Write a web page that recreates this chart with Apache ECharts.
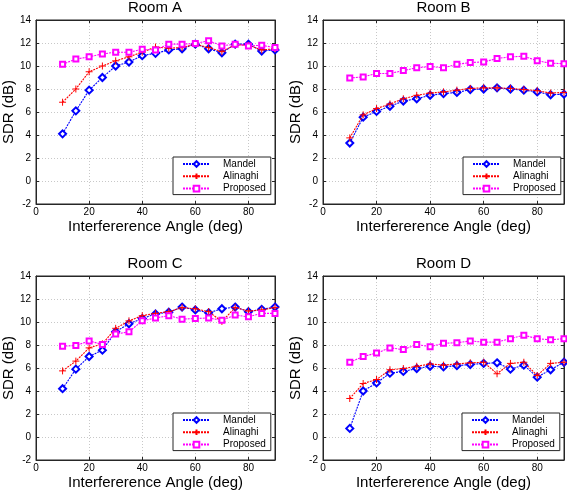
<!DOCTYPE html>
<html>
<head>
<meta charset="utf-8">
<script src="https://cdn.jsdelivr.net/npm/echarts@6/dist/echarts.min.js"></script>
<style>
html,body{margin:0;padding:0;background:#fff;}
#main{width:567px;height:493px;}
</style>
</head>
<body>
<div id="main"></div>
<script>
const angles = [10,15,20,25,30,35,40,45,50,55,60,65,70,75,80,85,90];
const roomNames = ['Room A','Room B','Room C','Room D'];
const seriesNames = ['Mandel','Alinaghi','Proposed'];

const mandelA   = [4.1, 6.1, 7.9, 9.0, 10.0, 10.35, 10.9, 11.1, 11.4, 11.5, 11.9, 11.5, 11.15, 11.9, 11.9, 11.3, 11.4];
const alinaghiA = [6.85, 8.0, 9.5, 10.0, 10.45, 10.8, 11.2, 11.65, 11.55, 11.6, 11.9, 11.6, 11.25, 11.85, 11.8, 11.4, 11.5];
const proposedA = [10.15, 10.6, 10.8, 11.05, 11.2, 11.2, 11.45, 11.4, 11.9, 11.9, 11.95, 12.2, 11.75, 11.9, 11.75, 11.8, 11.6];

const mandelB   = [3.3, 5.55, 6.05, 6.5, 6.95, 7.15, 7.45, 7.6, 7.7, 7.95, 8.0, 8.1, 8.0, 7.9, 7.75, 7.5, 7.55];
const alinaghiB = [3.75, 5.75, 6.3, 6.7, 7.15, 7.45, 7.65, 7.75, 7.9, 8.05, 8.1, 8.1, 8.05, 7.95, 7.85, 7.65, 7.7];
const proposedB = [8.95, 9.05, 9.35, 9.35, 9.6, 9.85, 9.95, 9.85, 10.15, 10.3, 10.35, 10.65, 10.8, 10.85, 10.45, 10.25, 10.2];

const mandelC   = [4.2, 5.9, 7.0, 7.55, 9.15, 9.85, 10.3, 10.7, 10.85, 11.3, 11.05, 10.8, 11.15, 11.3, 10.9, 11.1, 11.3];
const alinaghiC = [5.75, 6.6, 7.75, 8.1, 9.45, 10.1, 10.55, 10.75, 10.9, 11.25, 11.15, 10.9, 10.05, 11.25, 10.95, 11.05, 11.25];
const proposedC = [7.9, 7.95, 8.35, 8.05, 8.95, 9.15, 10.1, 10.35, 10.55, 10.25, 10.3, 10.35, 10.15, 10.6, 10.45, 10.75, 10.75];

const mandelD   = [0.75, 4.0, 4.7, 5.55, 5.7, 5.95, 6.15, 6.1, 6.2, 6.3, 6.4, 6.45, 5.9, 6.25, 5.2, 5.85, 6.5];
const alinaghiD = [3.35, 4.65, 5.0, 5.85, 5.95, 6.15, 6.35, 6.25, 6.35, 6.45, 6.5, 5.5, 6.4, 6.5, 5.35, 6.4, 6.5];
const proposedD = [6.5, 7.0, 7.3, 7.75, 7.6, 8.05, 7.85, 8.15, 8.2, 8.35, 8.25, 8.25, 8.55, 8.85, 8.55, 8.45, 8.55];

const xTickInterval = 20, xMin = 0, xMax = 90;
const yTickInterval = 2, yMin = -2, yMax = 14;
const xLabel = 'Interfererence Angle (deg)';
const yLabel = 'SDR (dB)';

const roomData = [
  [mandelA, alinaghiA, proposedA],
  [mandelB, alinaghiB, proposedB],
  [mandelC, alinaghiC, proposedC],
  [mandelD, alinaghiD, proposedD]
];

const FONT = 'Liberation Sans, Arial, Helvetica, sans-serif';
const grids = [
  {left: 35, top: 20, width: 240, height: 184},
  {left: 323, top: 20, width: 241, height: 184},
  {left: 35, top: 276, width: 240, height: 184},
  {left: 323, top: 276, width: 241, height: 184}
];
const legendPos = [
  {left: 173, top: 157},
  {left: 463, top: 157},
  {left: 173, top: 413},
  {left: 462, top: 413}
];
const colors = ['#0000ff', '#ff0000', '#ff00ff'];
const plusPath = 'path://M4,0L4,8M0,4L8,4';
const symbols = ['emptyDiamond', plusPath, 'emptyRect'];
const symbolSizes = [7, 7, 5];
const axisColor = '#262626';

const option = {
  backgroundColor: '#fff',
  animation: false,
  title: [], grid: [], xAxis: [], yAxis: [], series: [], legend: []
};

grids.forEach((g, i) => {
  option.grid.push(Object.assign({show: true, borderColor: axisColor, borderWidth: 1, backgroundColor: 'transparent'}, g));
  option.title.push({
    text: roomNames[i],
    left: g.left + g.width / 2,
    top: g.top - 20,
    textAlign: 'center',
    padding: 0,
    textStyle: {fontFamily: FONT, fontSize: 15, fontWeight: 'normal', color: '#000'}
  });
  option.xAxis.push({
    type: 'value', gridIndex: i, min: xMin, max: xMax, interval: xTickInterval,
    position: 'bottom',
    name: xLabel, nameLocation: 'middle', nameGap: 15,
    nameTextStyle: {fontFamily: FONT, fontSize: 15, color: '#000'},
    axisLine: {show: true, onZero: false, lineStyle: {color: axisColor, width: 1}},
    axisTick: {show: true, inside: true, length: 3, lineStyle: {color: axisColor}},
    axisLabel: {fontFamily: FONT, fontSize: 10, color: '#000', margin: 3, showMaxLabel: false},
    splitLine: {show: true, lineStyle: {color: '#c8c8c8', type: [1, 2], width: 1}}
  });
  option.xAxis.push({
    type: 'value', gridIndex: i, min: xMin, max: xMax, interval: xTickInterval,
    position: 'top',
    axisLine: {show: true, onZero: false, lineStyle: {color: axisColor, width: 1}},
    axisTick: {show: true, inside: true, length: 3, lineStyle: {color: axisColor}},
    axisLabel: {show: false}, splitLine: {show: false}
  });
  option.yAxis.push({
    type: 'value', gridIndex: i, min: yMin, max: yMax, interval: yTickInterval,
    position: 'left',
    name: yLabel, nameLocation: 'middle', nameGap: 20,
    nameTextStyle: {fontFamily: FONT, fontSize: 15, color: '#000'},
    axisLine: {show: true, onZero: false, lineStyle: {color: axisColor, width: 1}},
    axisTick: {show: true, inside: true, length: 3, lineStyle: {color: axisColor}},
    axisLabel: {fontFamily: FONT, fontSize: 10, color: '#000', margin: 5},
    splitLine: {show: true, lineStyle: {color: '#c8c8c8', type: [1, 2], width: 1}}
  });
  option.yAxis.push({
    type: 'value', gridIndex: i, min: yMin, max: yMax, interval: yTickInterval,
    position: 'right',
    axisLine: {show: true, onZero: false, lineStyle: {color: axisColor, width: 1}},
    axisTick: {show: true, inside: true, length: 3, lineStyle: {color: axisColor}},
    axisLabel: {show: false}, splitLine: {show: false}
  });
  roomData[i].forEach((vals, s) => {
    option.series.push({
      type: 'line',
      name: seriesNames[s],
      xAxisIndex: i * 2,
      yAxisIndex: i * 2,
      data: angles.map((a, k) => [a, vals[k]]),
      symbol: symbols[s],
      symbolSize: symbolSizes[s],
      showAllSymbol: true,
      color: colors[s],
      lineStyle: {color: colors[s], width: 1.1, type: [2, 1]},
      itemStyle: {color: colors[s], borderColor: colors[s], borderWidth: 1},
      emphasis: {disabled: true},
      z: 2 + s
    });
  });
  option.legend.push(Object.assign({
    data: seriesNames,
    orient: 'vertical',
    backgroundColor: '#fff',
    borderColor: axisColor,
    borderWidth: 1,
    borderRadius: 0,
    padding: [2, 5, 1, 9],
    itemGap: 2.3,
    itemWidth: 27,
    itemHeight: 7,
    selectedMode: false,
    textStyle: {fontFamily: FONT, fontSize: 10, lineHeight: 10, color: '#000', padding: [0, 0, 0, 8]},
    z: 10
  }, legendPos[i]));
});

const chart = echarts.init(document.getElementById('main'), null, {renderer: 'canvas'});
chart.setOption(option);
</script>
</body>
</html>
